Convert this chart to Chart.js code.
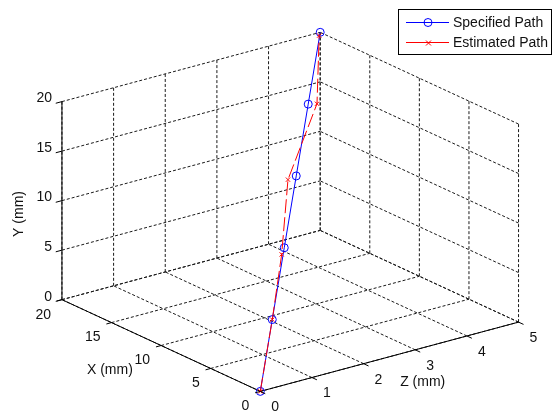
<!DOCTYPE html>
<html>
<head>
<meta charset="utf-8">
<script src="https://cdn.jsdelivr.net/npm/chart.js@4"></script>
<style>
html, body { margin: 0; padding: 0; background: #fff; }
#wrap { width: 553px; height: 412px; position: relative; }
</style>
</head>
<body>
<div id="wrap"><canvas id="pathChart"></canvas></div>
<script>
// axis ticks (mm)
var xTicks = [0, 5, 10, 15, 20];
var yTicks = [0, 5, 10, 15, 20];
var zTicks = [0, 1, 2, 3, 4, 5];

// specified path
var specX = [0, 4, 8, 12, 16, 20];
var specY = [0, 4, 8, 12, 16, 20];
var specZ = [0, 1, 2, 3, 4, 5];

// estimated path
var estX = [0, 4, 8, 12, 16, 20];
var estY = [0, 4, 7.4, 11.85, 15.8, 19.7];
var estZ = [0, 1, 1.95, 2.84, 4.17, 4.98];

var seriesNames = ['Specified Path', 'Estimated Path'];
var axisTitles = ['X (mm)', 'Y (mm)', 'Z (mm)'];

// 3D view: screen position of the origin and of one data unit along each axis
var view = { ox: 260, oy: 396, ex: [-10.1, -4.7], ey: [0, -10.15], ez: [52.6, -14.2] };

function project(x, y, z) {
    return {
        x: view.ox + x * view.ex[0] + y * view.ey[0] + z * view.ez[0],
        y: view.oy + x * view.ex[1] + y * view.ey[1] + z * view.ez[1],
    };
}

var xMax = xTicks[xTicks.length - 1];
var yMax = yTicks[yTicks.length - 1];
var zMax = zTicks[zTicks.length - 1];

function segment(a, b, solid) {
    return {
        data: [project(a[0], a[1], a[2]), project(b[0], b[1], b[2])],
        showLine: true,
        borderColor: solid ? '#000' : '#1a1a1a',
        borderWidth: 1,
        borderDash: solid ? [] : [3, 2],
        pointRadius: 0,
        order: solid ? 5 : 10,
        clip: false,
    };
}

// grid on the floor and the two back walls
var datasets = [];
xTicks.forEach(function (x) {
    datasets.push(segment([x, 0, 0], [x, 0, zMax]));
    datasets.push(segment([x, 0, zMax], [x, yMax, zMax]));
});
zTicks.forEach(function (z) {
    datasets.push(segment([0, 0, z], [xMax, 0, z]));
    datasets.push(segment([xMax, 0, z], [xMax, yMax, z]));
});
yTicks.forEach(function (y) {
    datasets.push(segment([xMax, y, 0], [xMax, y, zMax]));
    datasets.push(segment([0, y, zMax], [xMax, y, zMax]));
});

// solid axis lines
datasets.push(segment([0, 0, 0], [xMax, 0, 0], true));
datasets.push(segment([xMax, 0, 0], [xMax, yMax, 0], true));
datasets.push(segment([0, 0, 0], [0, 0, zMax], true));

function pathPoints(xs, ys, zs) {
    return xs.map(function (x, i) {
        return project(x, ys[i], zs[i]);
    });
}

datasets.push({
    label: seriesNames[1],
    data: pathPoints(estX, estY, estZ),
    showLine: true,
    borderColor: '#ff0000',
    borderWidth: 1,
    borderDash: [14, 4],
    pointStyle: 'crossRot',
    pointRadius: 3,
    pointBorderColor: '#ff0000',
    pointBorderWidth: 1,
    order: 1,
    clip: false,
});
datasets.push({
    label: seriesNames[0],
    data: pathPoints(specX, specY, specZ),
    showLine: true,
    borderColor: '#0000ff',
    borderWidth: 1,
    pointStyle: 'circle',
    pointRadius: 4,
    pointBorderColor: '#0000ff',
    pointBackgroundColor: 'rgba(0,0,0,0)',
    pointBorderWidth: 1,
    order: 2,
    clip: false,
});

var font = '14px "Liberation Sans", Arial, sans-serif';

// tick marks, tick labels, axis titles and the legend box
var axesPlugin = {
    id: 'axes3d',
    afterDraw: function (chart) {
        var ctx = chart.ctx;
        var sx = chart.scales.x;
        var sy = chart.scales.y;
        function px(p) {
            return { x: sx.getPixelForValue(p.x), y: sy.getPixelForValue(p.y) };
        }
        function tick(a, d) {
            var p = px(project(a[0], a[1], a[2]));
            var q = px(project(a[0] + d[0], a[1] + d[1], a[2] + d[2]));
            ctx.beginPath();
            ctx.moveTo(p.x, p.y);
            ctx.lineTo(q.x, q.y);
            ctx.stroke();
            return p;
        }

        ctx.save();
        ctx.strokeStyle = '#000';
        ctx.lineWidth = 1;
        ctx.fillStyle = '#111';
        ctx.font = font;
        ctx.textBaseline = 'middle';

        ctx.textAlign = 'right';
        yTicks.forEach(function (y) {
            var p = tick([xMax, y, 0], [0, 0, -0.12]);
            ctx.fillText(String(y), p.x - 10, p.y - 3);
        });
        xTicks.forEach(function (x) {
            var p = tick([x, 0, 0], [0, 0, -0.1]);
            ctx.fillText(String(x), p.x - 11, p.y + 15);
        });
        ctx.textAlign = 'left';
        zTicks.forEach(function (z) {
            var p = tick([0, 0, z], [-0.5, 0, 0]);
            ctx.fillText(String(z), p.x + 11, p.y + 16);
        });

        // axis titles
        ctx.textAlign = 'center';
        var xt = px(project(8.66, 0, -1.25));
        ctx.fillText(axisTitles[0], xt.x, xt.y + 1);
        var zt = px(project(-4.4, 0, 2.3));
        ctx.fillText(axisTitles[2], zt.x, zt.y + 2);
        var yt = px(project(xMax, 9.8, -0.82));
        ctx.save();
        ctx.translate(yt.x, yt.y);
        ctx.rotate(-Math.PI / 2);
        ctx.fillText(axisTitles[1], 0, 0);
        ctx.restore();

        // legend
        var lx = 398.5, ly = 9.5, lw = 153, lh = 45;
        ctx.fillStyle = '#fff';
        ctx.fillRect(lx, ly, lw, lh);
        ctx.strokeStyle = '#000';
        ctx.strokeRect(lx, ly, lw, lh);
        var rows = [
            { name: seriesNames[0], color: '#0000ff', y: 22 },
            { name: seriesNames[1], color: '#ff0000', y: 42 },
        ];
        rows.forEach(function (r, i) {
            ctx.strokeStyle = r.color;
            ctx.beginPath();
            ctx.moveTo(406, r.y + 0.5);
            ctx.lineTo(449, r.y + 0.5);
            ctx.stroke();
            ctx.beginPath();
            if (i === 0) {
                ctx.arc(428, r.y + 0.5, 4, 0, Math.PI * 2);
            } else {
                ctx.moveTo(426, r.y - 1.5);
                ctx.lineTo(431, r.y + 3.5);
                ctx.moveTo(431, r.y - 1.5);
                ctx.lineTo(426, r.y + 3.5);
            }
            ctx.stroke();
            ctx.fillStyle = '#111';
            ctx.textAlign = 'left';
            ctx.fillText(r.name, 453, r.y + 1);
        });
        ctx.restore();
    },
};

new Chart(document.getElementById('pathChart').getContext('2d'), {
    type: 'scatter',
    data: { datasets: datasets },
    options: {
        responsive: true,
        maintainAspectRatio: false,
        animation: false,
        layout: { padding: 0 },
        scales: {
            x: { type: 'linear', min: 0, max: 553, display: false },
            y: { type: 'linear', min: 0, max: 412, reverse: true, display: false },
        },
        plugins: {
            legend: { display: false },
            tooltip: { enabled: false },
        },
    },
    plugins: [axesPlugin],
});
</script>
</body>
</html>
